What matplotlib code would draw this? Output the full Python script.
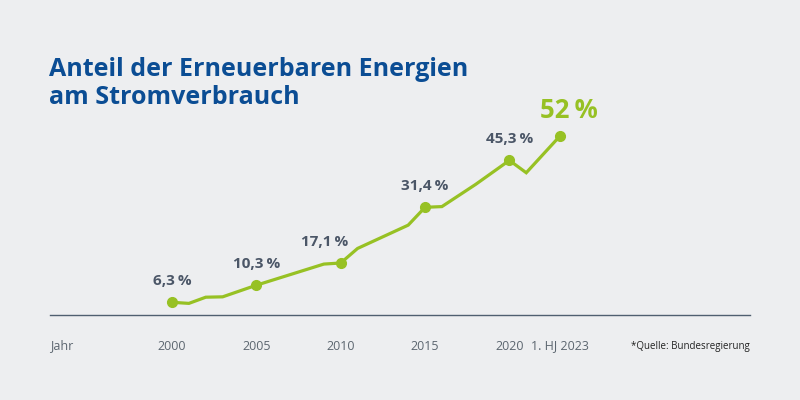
import matplotlib
matplotlib.use("Agg")
import matplotlib.pyplot as plt
from matplotlib.transforms import blended_transform_factory
from matplotlib.lines import Line2D

# Data (vertices of the line as drawn)
years = [2000, 2001, 2002, 2003, 2005, 2009, 2010, 2011, 2014, 2015, 2016, 2018, 2020, 2021, 2023]
share = [6.3, 6.0, 7.7, 7.8, 11.0, 16.8, 17.1, 21.1, 27.5, 32.4, 32.6, 38.7, 45.3, 41.9, 52.0]

marked_years = [2000, 2005, 2010, 2015, 2020, 2023]
marked_labels = ["6,3\u2009%", "10,3\u2009%", "17,1\u2009%", "31,4\u2009%", "45,3\u2009%", "52\u2009%"]

tick_years = [2000, 2005, 2010, 2015, 2020, 2023]
tick_labels = ["2000", "2005", "2010", "2015", "2020", "1. HJ 2023"]

BG = "#edeef0"
GREEN = "#97c124"
GREY = "#4b5667"
BLUE = "#0b4d94"

plt.rcParams["font.family"] = ["Open Sans", "DejaVu Sans"]

fig = plt.figure(figsize=(8, 4), dpi=100, facecolor=BG)
ax = fig.add_axes([0, 0, 1, 1])
ax.set_facecolor(BG)
ax.axis("off")
ax.set_xlim(1989.80, 2037.23)
ax.set_ylim(-20.55, 89.37)

ax.plot(years, share, color=GREEN, lw=2.3, solid_joinstyle="miter", zorder=3)
mv = [share[years.index(y)] for y in marked_years]
ax.plot(marked_years, mv, "o", color=GREEN, ms=7, zorder=4)

offsets = {2000: 0, 2005: 0, 2010: -16, 2015: 0, 2020: 0}
for y, v, lab in zip(marked_years, mv, marked_labels):
    if y == 2023:
        ax.annotate(lab, (y, v), xytext=(9, 25), textcoords="offset pixels",
                    ha="center", va="center", color=GREEN, fontsize=18.5, fontweight="bold")
    else:
        ax.annotate(lab, (y, v), xytext=(offsets[y], 21), textcoords="offset pixels",
                    ha="center", va="center", color=GREY, fontsize=11, fontweight="bold")

# baseline
fig.add_artist(Line2D([50/800, 750/800], [1 - 315/400, 1 - 315/400], color="#4f5f70", lw=1.0))

# tick labels
tr = blended_transform_factory(ax.transData, fig.transFigure)
ty = 1 - 346/400
for y, lab in zip(tick_years, tick_labels):
    ax.text(y, ty, lab, transform=tr, ha="center", va="center", color="#5c6670", fontsize=9)
fig.text(50/800, ty, "Jahr", ha="left", va="center", color="#5c6670", fontsize=9)
fig.text(750/800, ty, "*Quelle: Bundesregierung", ha="right", va="center", color="#222222", fontsize=7)

# title
fig.text(49/800, 1 - 70/400, "Anteil der Erneuerbaren Energien", ha="left", va="center",
         color=BLUE, fontsize=18, fontweight="bold")
fig.text(49/800, 1 - 98/400, "am Stromverbrauch", ha="left", va="center",
         color=BLUE, fontsize=18, fontweight="bold")

fig.savefig("out.png", dpi=100, facecolor=BG)
